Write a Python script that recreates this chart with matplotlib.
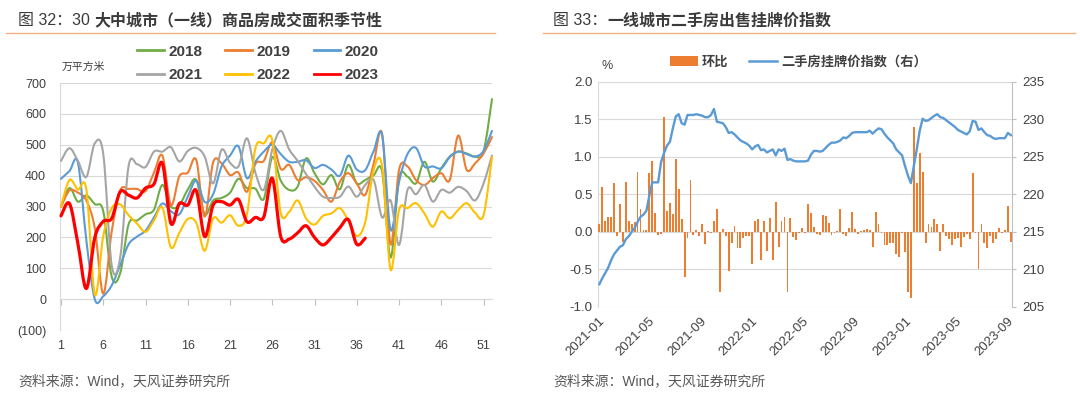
import numpy as np
import pandas as pd
import matplotlib
matplotlib.use('Agg')
import matplotlib.pyplot as plt
import matplotlib.dates as mdates
from matplotlib.path import Path
from matplotlib.patches import PathPatch, Patch
from matplotlib.lines import Line2D
from matplotlib.ticker import FuncFormatter

plt.rcParams['font.family'] = ['Liberation Sans', 'Noto Sans CJK SC', 'DejaVu Sans']

# ---------------- Left chart data ----------------
weeks = list(range(1, 53))
years = ['2018', '2019', '2020', '2021', '2022', '2023']
s2018 = [300, 360, 316, 336, 308, 285, 73, 84, 243, 255, 275, 290, 370, 300, 305, 355, 386, 275, 320, 328,
         345, 390, 360, 358, 325, 460, 384, 354, 365, 456, 408, 372, 402, 356, 435, 375, 386, 402, 413, 135,
         392, 397, 375, 445, 381, 424, 462, 478, 472, 462, 478, 648]
s2019 = [300, 352, 345, 320, 230, 18, 220, 352, 357, 357, 350, 410, 465, 305, 398, 410, 451, 268, 443, 440,
         402, 410, 348, 438, 448, 508, 422, 435, 386, 395, 383, 354, 316, 380, 408, 375, 338, 440, 535, 178,
         419, 430, 386, 370, 392, 408, 386, 530, 419, 440, 472, 525]
s2020 = [390, 415, 442, 190, 0, 10, 45, 110, 178, 203, 222, 265, 310, 285, 275, 332, 384, 315, 340, 430,
         465, 495, 392, 445, 478, 500, 470, 445, 445, 450, 425, 435, 420, 400, 465, 420, 418, 480, 530, 225,
         380, 470, 490, 430, 430, 424, 460, 478, 470, 462, 480, 545]
s2021 = [448, 489, 448, 396, 505, 470, 110, 135, 432, 437, 428, 478, 478, 492, 446, 480, 490, 462, 375, 484,
         442, 430, 521, 410, 355, 485, 545, 485, 448, 405, 364, 332, 328, 332, 365, 332, 370, 386, 265, 320,
         176, 354, 340, 370, 316, 354, 345, 364, 350, 320, 375, 465]
s2022 = [300, 386, 355, 355, 15, 205, 295, 307, 272, 245, 218, 255, 297, 168, 215, 260, 248, 157, 262, 248,
         272, 238, 275, 488, 505, 515, 280, 283, 320, 262, 242, 270, 278, 295, 255, 205, 250, 420, 430, 96,
         289, 295, 311, 278, 235, 284, 262, 289, 311, 280, 272, 460]
s2023 = [270, 310, 180, 35, 200, 252, 262, 348, 337, 328, 360, 373, 440, 246, 310, 305, 352, 203, 305, 316,
         305, 323, 251, 265, 267, 392, 203, 195, 215, 238, 200, 176, 200, 232, 258, 178, 198]
series = [s2018, s2019, s2020, s2021, s2022, s2023]
line_colors = ['#70AD47', '#ED7D31', '#5B9BD5', '#A5A5A5', '#FFC000', '#FF0000']
x_ticks_left = [1, 6, 11, 16, 21, 26, 31, 36, 41, 46, 51]
y_ticks_left = [-100, 0, 100, 200, 300, 400, 500, 600, 700]

# ---------------- Right chart data ----------------
start_date = '2021-01-03'
mom = [0.10, 0.60, 0.15, 0.20, 0.20, 0.65, -0.05, 0.37, -0.13, 0.66,
       0.15, 0.10, 0.13, 0.80, 0.30, 0.03, 0.02, 0.78, 0.95, 0.25,
       -0.04, -0.03, 1.53, 0.28, 0.38, 0.24, 0.97, 0.57, 0.17, -0.60,
       -0.08, 0.69, -0.04, 0.02, -0.05, 0.10, -0.16, 0.01, -0.02, 0.15,
       0.30, -0.80, 0.04, -0.05, -0.52, -0.15, 0.08, -0.22, -0.22, -0.08,
       -0.05, -0.05, -0.43, 0.15, 0.17, -0.37, 0.14, -0.25, 0.18, -0.37,
       0.40, -0.20, 0.14, 0.20, -0.80, 0.18, -0.07, -0.11, -0.02, 0.05,
       -0.01, 0.37, 0.25, 0.06, -0.03, -0.04, 0.22, 0.21, 0.12, -0.04,
       -0.02, 0.01, 0.30, -0.03, -0.05, 0.05, 0.26, 0.04, -0.03, 0.01,
       0.02, 0.04, 0.02, -0.20, 0.26, 0.10, -0.02, -0.18, -0.18, -0.15,
       -0.15, -0.30, -0.33, -0.01, -0.27, -0.80, -0.88, 1.40, 0.65, 1.05,
       0.80, -0.15, 0.10, 0.06, 0.17, 0.10, -0.25, 0.10, -0.05, -0.10,
       -0.17, -0.10, -0.08, -0.20, -0.07, -0.03, -0.10, 0.78, -0.02, -0.50,
       0.10, -0.15, -0.22, -0.05, -0.15, -0.10, 0.05, -0.02, 0.02, 0.35,
       -0.13]
price_idx = [208.0, 208.8, 209.5, 210.2, 211.2, 212.0, 212.5, 213.0, 213.2, 214.0,
             214.4, 215.0, 215.5, 216.3, 217.0, 217.3, 217.8, 219.8, 221.6, 221.6,
             221.6, 224.3, 225.5, 226.5, 227.0, 228.8, 230.4, 230.7, 229.5, 229.3,
             230.6, 230.6, 230.6, 230.7, 230.6, 230.5, 230.3, 230.3, 230.6, 231.4,
             229.7, 229.6, 229.5, 229.0, 228.2, 228.3, 228.0, 227.6, 227.2, 227.0,
             226.8, 226.5, 226.0, 226.4, 226.6, 225.9, 226.0, 225.6, 225.8, 226.0,
             225.2, 226.0, 225.8, 226.1, 224.6, 224.7, 224.5, 224.4, 224.4, 224.4,
             224.4, 224.5, 225.3, 225.8, 225.8, 225.7, 225.8, 226.2, 226.6, 226.9,
             226.9, 227.0, 227.2, 227.6, 227.5, 227.8, 228.2, 228.3, 228.3, 228.3,
             228.3, 228.3, 228.5, 228.1, 228.5, 228.8, 228.7, 228.1, 227.6, 227.2,
             226.8, 226.0, 225.6, 225.2, 223.8, 222.5, 221.5, 223.8, 226.0, 228.5,
             230.1, 229.8, 229.9, 230.2, 230.5, 230.7, 230.3, 230.2, 229.9, 229.6,
             229.3, 229.0, 228.6, 228.4, 228.2, 228.0, 228.4, 229.8, 229.7, 228.6,
             228.8, 228.3, 227.9, 227.8, 227.5, 227.4, 227.5, 227.5, 227.5, 228.2,
             227.9]

GRID = '#D9D9D9'
SPINE = '#BFBFBF'
TXT = '#404040'
TITLE = '#3A3A3A'


def smooth_path(x, y):
    x = np.asarray(x, float)
    y = np.asarray(y, float)
    n = len(x)
    verts = [(x[0], y[0])]
    codes = [Path.MOVETO]
    for i in range(n - 1):
        x0, y0 = (x[i - 1], y[i - 1]) if i > 0 else (x[i], y[i])
        x3, y3 = (x[i + 2], y[i + 2]) if i + 2 < n else (x[i + 1], y[i + 1])
        c1 = (x[i] + (x[i + 1] - x0) / 6.0, y[i] + (y[i + 1] - y0) / 6.0)
        c2 = (x[i + 1] - (x3 - x[i]) / 6.0, y[i + 1] - (y3 - y[i]) / 6.0)
        verts += [c1, c2, (x[i + 1], y[i + 1])]
        codes += [Path.CURVE4] * 3
    return Path(verts, codes)


fig = plt.figure(figsize=(10.8, 3.96), dpi=100)
fig.patch.set_facecolor('white')

# ---------------- Left chart ----------------
ax = fig.add_axes([60 / 1080, (396 - 330.2) / 396, 432 / 1080, (330.2 - 83) / 396])
ax.set_xlim(0.88, 52.0)
ax.set_ylim(-100, 700)
ax.set_yticks(y_ticks_left)
ax.yaxis.set_major_formatter(FuncFormatter(lambda v, p: f'({abs(int(v))})' if v < 0 else f'{int(v)}'))
ax.grid(axis='y', color=GRID, lw=0.8, zorder=0)
ax.set_axisbelow(True)
for s in ['top', 'right', 'bottom']:
    ax.spines[s].set_visible(False)
ax.spines['left'].set_color(GRID)
ax.spines['left'].set_linewidth(0.8)
ax.set_xticks(x_ticks_left)
ax.tick_params(axis='x', length=0, pad=7, labelsize=9, labelcolor=TXT)
ax.tick_params(axis='y', length=0, pad=10, labelsize=9, labelcolor=TXT)

sec = ax.secondary_xaxis(0.125)
sec.set_xticks(x_ticks_left)
sec.set_xticklabels([])
sec.tick_params(direction='out', length=4, color=SPINE, width=0.8)
for s in sec.spines.values():
    s.set_color(GRID)
    s.set_linewidth(0.8)

for yr, vals, c in zip(years, series, line_colors):
    wk = weeks[:len(vals)]
    lw = 2.3 if yr == '2023' else 1.5
    patch = PathPatch(smooth_path(wk, vals), fill=False, edgecolor=c, lw=lw,
                      capstyle='round', joinstyle='round', zorder=5 if yr == '2023' else 3)
    patch.set_clip_on(False)
    ax.add_patch(patch)

# legend filled row by row: 2018 2019 2020 / 2021 2022 2023
order = [0, 3, 1, 4, 2, 5]
handles = [Line2D([], [], color=line_colors[k], lw=2.0) for k in order]
labels = [years[k] for k in order]
leg = fig.legend(handles, labels, loc='center', bbox_to_anchor=(0.2389, 0.840), ncol=3,
                 frameon=False, prop={'size': 11, 'weight': 'bold'}, handlelength=1.75,
                 handletextpad=0.3, columnspacing=1.5, labelspacing=0.6, borderpad=0)
for t in leg.get_texts():
    t.set_color(TXT)

fig.text(62 / 1080, 1 - 67 / 396, '万平方米', fontsize=7.8, color=TXT, ha='left', va='center')

# ---------------- Right chart ----------------
dates = pd.date_range(start_date, periods=len(mom), freq='7D')
xd = mdates.date2num(dates)
axb = fig.add_axes([598 / 1080, (396 - 306.7) / 396, 413.7 / 1080, (306.7 - 82) / 396])
axb.bar(xd, mom, width=4.4, color='#ED7D31', zorder=3)
axb.set_ylim(-1.0, 2.0)
axb.set_yticks(np.arange(-1.0, 2.01, 0.5))
axb.yaxis.set_major_formatter(FuncFormatter(lambda v, p: f'{v:.1f}'))
axb.set_xlim(xd[0] - 3.2, xd[-1] + 2.1)
axb.grid(axis='y', color=GRID, lw=0.8, zorder=0)
axb.set_axisbelow(True)
for s in ['top', 'right', 'bottom']:
    axb.spines[s].set_visible(False)
axb.spines['left'].set_color(GRID)
axb.spines['left'].set_linewidth(0.8)
axb.xaxis.set_major_locator(mdates.MonthLocator(bymonth=[1, 5, 9]))
axb.xaxis.set_major_formatter(mdates.DateFormatter('%Y-%m'))
axb.tick_params(axis='x', length=0, pad=6, labelsize=9.5, labelcolor=TXT)
for lbl in axb.get_xticklabels():
    lbl.set_rotation(45)
    lbl.set_ha('right')
    lbl.set_rotation_mode('anchor')
axb.tick_params(axis='y', length=0, pad=4, labelsize=9.5, labelcolor=TXT)

axl = axb.twinx()
axl.plot(xd, price_idx, color='#5B9BD5', lw=1.7, zorder=4)
axl.set_ylim(205, 235)
axl.set_yticks(range(205, 236, 5))
for s in ['top', 'left', 'bottom']:
    axl.spines[s].set_visible(False)
axl.spines['right'].set_color(SPINE)
axl.spines['right'].set_linewidth(0.8)
axl.tick_params(axis='y', length=3, width=0.8, color=SPINE, pad=5, labelsize=9.5, labelcolor=TXT)

h2 = [Patch(facecolor='#ED7D31', edgecolor='none'), Line2D([], [], color='#5B9BD5', lw=1.8)]
leg2 = fig.legend(h2, ['环比', '二手房挂牌价指数（右）'], loc='center', bbox_to_anchor=(0.7394, 0.8434),
                  ncol=2, frameon=False, prop={'size': 9.5, 'weight': 'bold'}, handlelength=2.1,
                  handleheight=0.75, handletextpad=0.3, columnspacing=1.6, borderpad=0)
for t in leg2.get_texts():
    t.set_color(TXT)

fig.text(601 / 1080, 1 - 66 / 396, '%', fontsize=9, color=TXT, ha='left', va='center')

# ---------------- Titles, rules and sources ----------------
renderer = fig.canvas.get_renderer()


def two_part(x, y, p1, p2, size):
    t1 = fig.text(x, y, p1, fontsize=size, color=TITLE, ha='left', va='baseline')
    bb = t1.get_window_extent(renderer)
    fig.text(bb.x1 / fig.bbox.width, y, p2, fontsize=size, weight='bold', color=TITLE,
             ha='left', va='baseline')


two_part(18 / 1080, 1 - 25.5 / 396, '图 32：30 ', '大中城市（一线）商品房成交面积季节性', 11.5)
two_part(553 / 1080, 1 - 25.5 / 396, '图 33：', '一线城市二手房出售挂牌价指数', 11.5)

fig.add_artist(Line2D([6 / 1080, 495 / 1080], [1 - 33 / 396, 1 - 33 / 396], color='#F4B183', lw=1.0))
fig.add_artist(Line2D([543 / 1080, 1075 / 1080], [1 - 33 / 396, 1 - 33 / 396], color='#F4B183', lw=1.0))

fig.text(18 / 1080, 1 - 381 / 396, '资料来源：Wind，天风证券研究所', fontsize=10, color='#595959',
         ha='left', va='center')
fig.text(553 / 1080, 1 - 381 / 396, '资料来源：Wind，天风证券研究所', fontsize=10, color='#595959',
         ha='left', va='center')

fig.savefig('out.png', dpi=100, facecolor='white')
